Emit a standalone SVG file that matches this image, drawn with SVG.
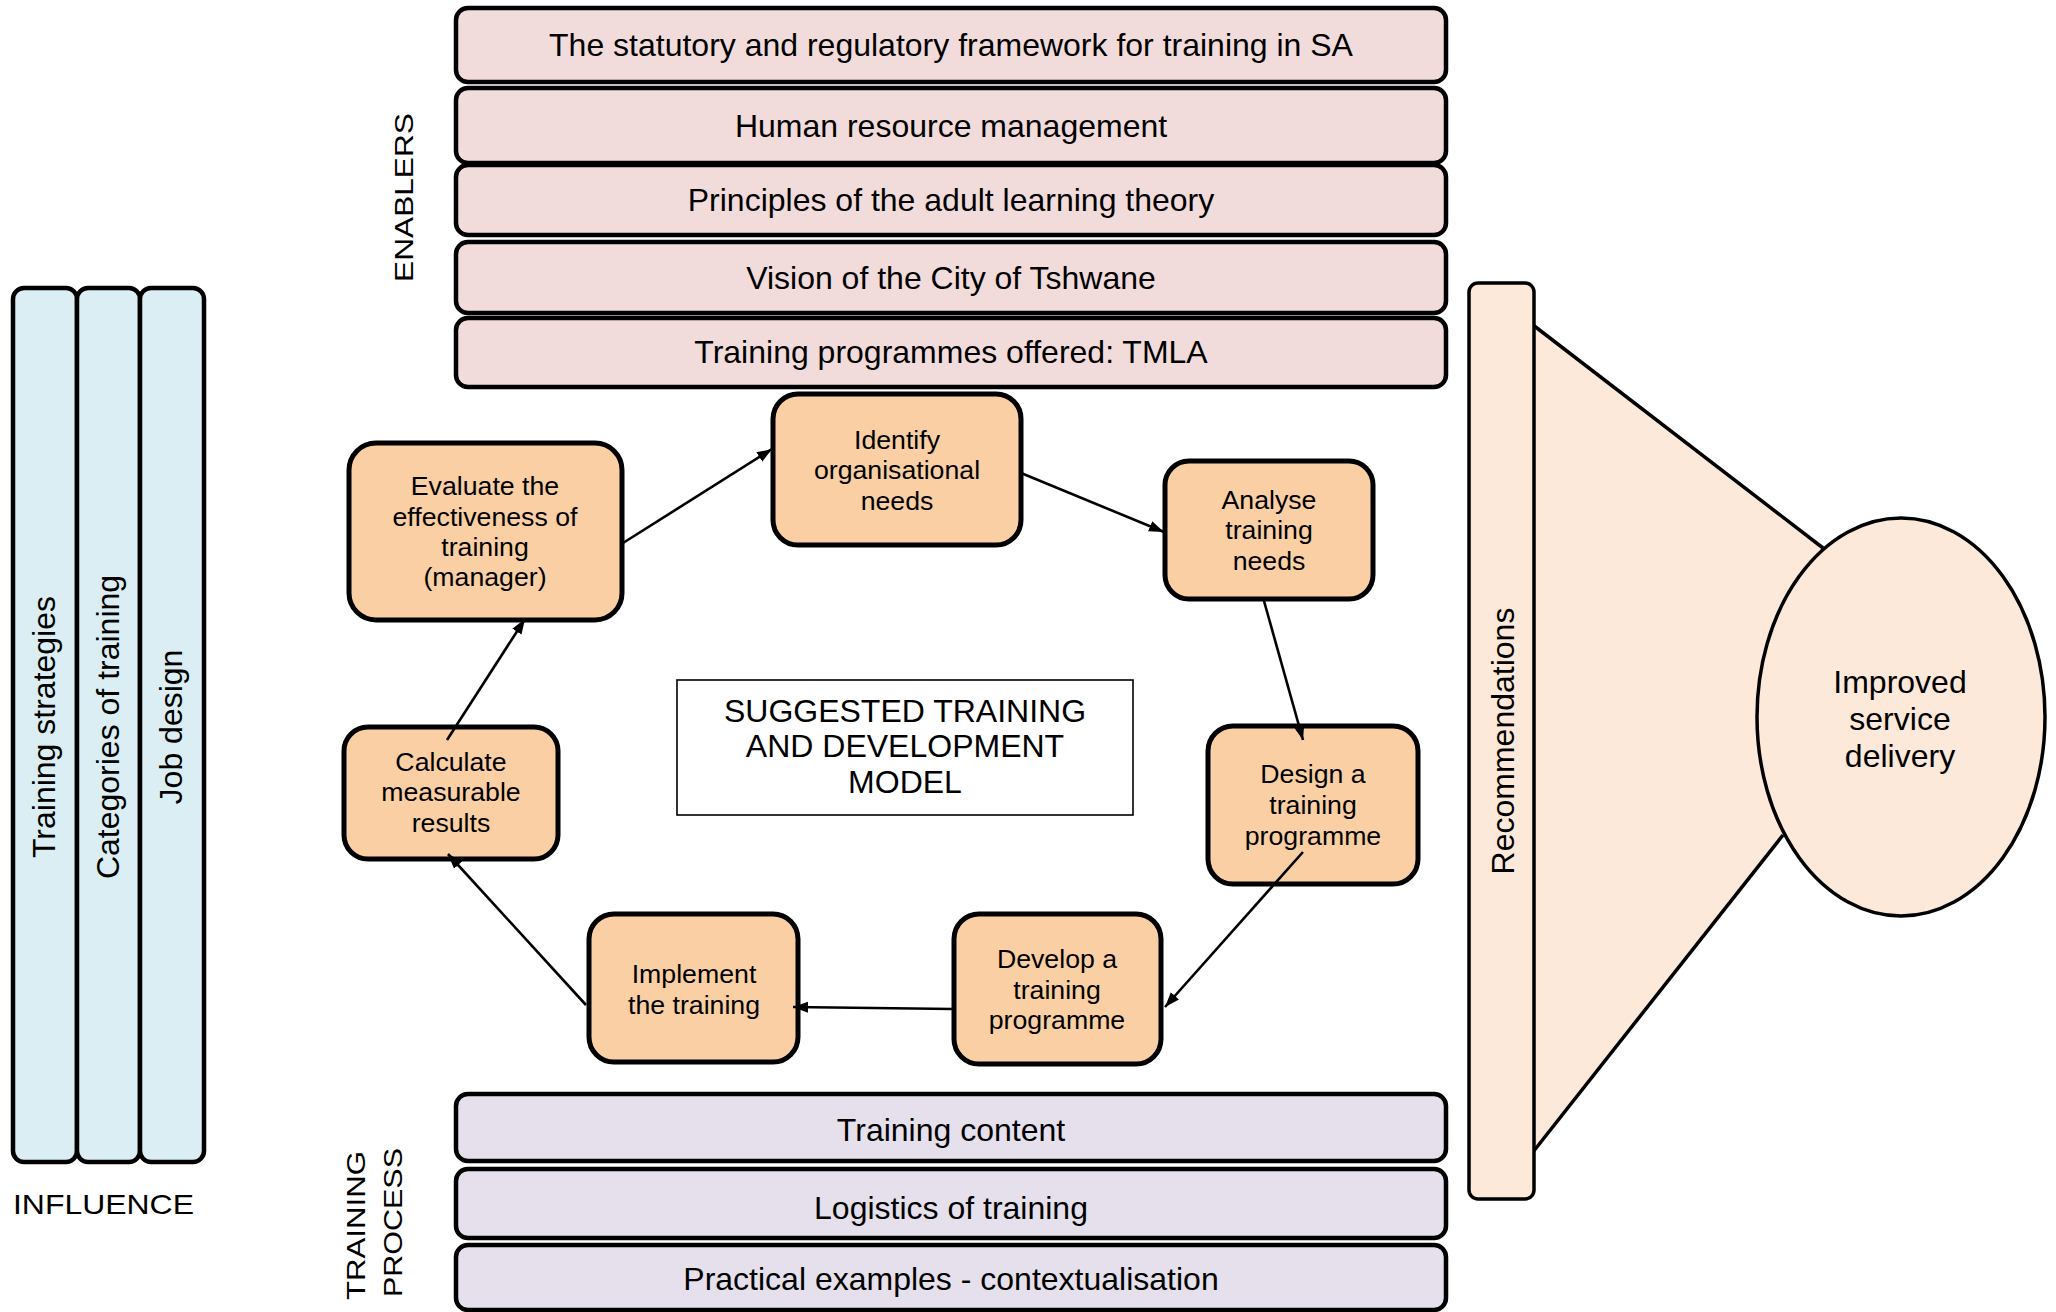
<svg xmlns="http://www.w3.org/2000/svg" width="2056" height="1312" viewBox="0 0 2056 1312">
  <style>
    text { font-family: "Liberation Sans", Arial, sans-serif; fill: #000; }
    .enabler rect { fill: #f2dcdb; stroke: #000; stroke-width: 4.5; }
    .process rect { fill: #e5e0ec; stroke: #000; stroke-width: 4.5; }
    .influence rect { fill: #daeef3; stroke: #000; stroke-width: 4.5; }
    .step rect { fill: #facfa3; stroke: #000; stroke-width: 5; }
    .big { font-size: 32px; text-anchor: middle; }
    .step text { font-size: 26.7px; text-anchor: middle; }
    .label { font-size: 25px; }
    .conn line { stroke: #000; stroke-width: 2.6; marker-end: url(#arrow); }
  </style>
  <defs>
    <marker id="arrow" markerUnits="userSpaceOnUse" markerWidth="16" markerHeight="12" refX="15" refY="5.5" orient="auto">
      <path d="M0,0 L15,5.5 L0,11 z" fill="#000"/>
    </marker>
  </defs>

  <rect width="2056" height="1312" fill="#fff"/>

  <!-- Enablers stack -->
  <g id="enablers-label">
    <text class="label" transform="translate(413,282) rotate(-90)" textLength="169" lengthAdjust="spacingAndGlyphs">ENABLERS</text>
  </g>
  <g id="enabler-1" class="enabler">
    <rect x="456" y="8" width="990" height="74" rx="12"/>
    <text class="big" x="951" y="56">The statutory and regulatory framework for training in SA</text>
  </g>
  <g id="enabler-2" class="enabler">
    <rect x="456" y="88" width="990" height="75" rx="12"/>
    <text class="big" x="951" y="137">Human resource management</text>
  </g>
  <g id="enabler-3" class="enabler">
    <rect x="456" y="165" width="990" height="70" rx="12"/>
    <text class="big" x="951" y="211">Principles of the adult learning theory</text>
  </g>
  <g id="enabler-4" class="enabler">
    <rect x="456" y="242" width="990" height="71" rx="12"/>
    <text class="big" x="951" y="289">Vision of the City of Tshwane</text>
  </g>
  <g id="enabler-5" class="enabler">
    <rect x="456" y="318" width="990" height="69" rx="12"/>
    <text class="big" x="951" y="363">Training programmes offered: TMLA</text>
  </g>

  <!-- Influence columns -->
  <g id="influence-1" class="influence">
    <rect x="13" y="288" width="64" height="874" rx="11"/>
    <text class="big" transform="translate(55,727) rotate(-90)">Training strategies</text>
  </g>
  <g id="influence-2" class="influence">
    <rect x="77" y="288" width="63" height="874" rx="11"/>
    <text class="big" transform="translate(119,727) rotate(-90)">Categories of training</text>
  </g>
  <g id="influence-3" class="influence">
    <rect x="140" y="288" width="64" height="874" rx="11"/>
    <text class="big" transform="translate(182,727) rotate(-90)">Job design</text>
  </g>
  <g id="influence-label">
    <text x="13" y="1214" font-size="28" textLength="181" lengthAdjust="spacingAndGlyphs">INFLUENCE</text>
  </g>

  <!-- Centre title -->
  <g id="model-title">
    <rect x="677" y="680" width="456" height="135" fill="#fff" stroke="#000" stroke-width="1.6"/>
    <text class="big" x="905" y="722">SUGGESTED TRAINING</text>
    <text class="big" x="905" y="757">AND DEVELOPMENT</text>
    <text class="big" x="905" y="793">MODEL</text>
  </g>

  <!-- Training cycle steps -->
  <g id="identify" class="step">
    <rect x="773" y="394" width="248" height="151" rx="25"/>
    <text x="897" y="449">Identify</text>
    <text x="897" y="479">organisational</text>
    <text x="897" y="510">needs</text>
  </g>
  <g id="analyse" class="step">
    <rect x="1165" y="461" width="208" height="138" rx="24"/>
    <text x="1269" y="509">Analyse</text>
    <text x="1269" y="539">training</text>
    <text x="1269" y="570">needs</text>
  </g>
  <g id="design" class="step">
    <rect x="1208" y="726" width="210" height="158" rx="25"/>
    <text x="1313" y="783">Design a</text>
    <text x="1313" y="814">training</text>
    <text x="1313" y="845">programme</text>
  </g>
  <g id="develop" class="step">
    <rect x="954" y="914" width="207" height="150" rx="25"/>
    <text x="1057" y="968">Develop a</text>
    <text x="1057" y="999">training</text>
    <text x="1057" y="1029">programme</text>
  </g>
  <g id="implement" class="step">
    <rect x="589" y="914" width="209" height="148" rx="25"/>
    <text x="694" y="983">Implement</text>
    <text x="694" y="1014">the training</text>
  </g>
  <g id="calculate" class="step">
    <rect x="344" y="727" width="214" height="132" rx="24"/>
    <text x="451" y="771">Calculate</text>
    <text x="451" y="801">measurable</text>
    <text x="451" y="832">results</text>
  </g>
  <g id="evaluate" class="step">
    <rect x="349" y="443" width="273" height="177" rx="27"/>
    <text x="485" y="495">Evaluate the</text>
    <text x="485" y="526">effectiveness of</text>
    <text x="485" y="556">training</text>
    <text x="485" y="586">(manager)</text>
  </g>

  <!-- Cycle connectors -->
  <g id="connectors" class="conn">
    <line x1="623" y1="543" x2="772" y2="449"/>
    <line x1="1021" y1="473" x2="1164" y2="532"/>
    <line x1="1264" y1="601" x2="1303" y2="740"/>
    <line x1="1303" y1="852" x2="1165" y2="1007"/>
    <line x1="953" y1="1009" x2="793" y2="1007"/>
    <line x1="586" y1="1005" x2="448" y2="854"/>
    <line x1="447" y1="740" x2="525" y2="619"/>
  </g>

  <!-- Training process stack -->
  <g id="process-label">
    <text class="label" transform="translate(365,1300) rotate(-90)" textLength="149" lengthAdjust="spacingAndGlyphs">TRAINING</text>
    <text class="label" transform="translate(402,1297) rotate(-90)" textLength="149" lengthAdjust="spacingAndGlyphs">PROCESS</text>
  </g>
  <g id="process-1" class="process">
    <rect x="456" y="1094" width="990" height="67" rx="12"/>
    <text class="big" x="951" y="1141">Training content</text>
  </g>
  <g id="process-2" class="process">
    <rect x="456" y="1169" width="990" height="69" rx="12"/>
    <text class="big" x="951" y="1219">Logistics of training</text>
  </g>
  <g id="process-3" class="process">
    <rect x="456" y="1245" width="990" height="65" rx="12"/>
    <text class="big" x="951" y="1290">Practical examples - contextualisation</text>
  </g>

  <!-- Recommendations funnel to outcome -->
  <g id="funnel">
    <polygon points="1533,325 1823,548 1900,717 1783,835 1533,1152" fill="#fde9d9"/>
    <line x1="1533" y1="325" x2="1823" y2="548" stroke="#000" stroke-width="3.5"/>
    <line x1="1533" y1="1152" x2="1783" y2="835" stroke="#000" stroke-width="3.5"/>
  </g>
  <g id="recommendations">
    <rect x="1469" y="283" width="65" height="916" rx="9" fill="#fde9d9" stroke="#000" stroke-width="3.5"/>
    <text class="big" transform="translate(1514,741) rotate(-90)">Recommendations</text>
  </g>
  <g id="outcome">
    <ellipse cx="1901" cy="717" rx="144" ry="199" fill="#fde9d9" stroke="#000" stroke-width="3.5"/>
    <text class="big" x="1900" y="693">Improved</text>
    <text class="big" x="1900" y="730">service</text>
    <text class="big" x="1900" y="767">delivery</text>
  </g>
</svg>
